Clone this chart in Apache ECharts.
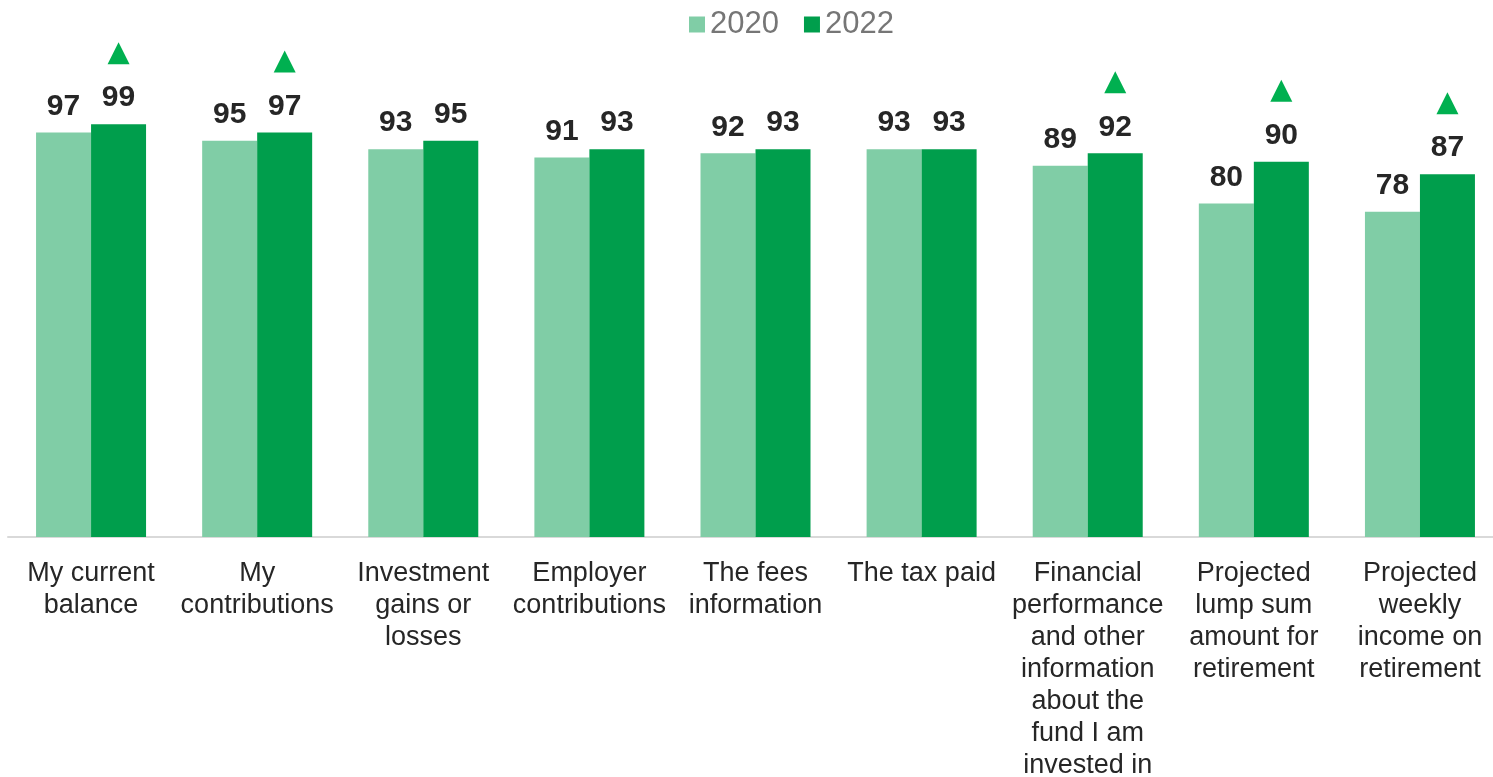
<!DOCTYPE html>
<html>
<head>
<meta charset="utf-8">
<style>
  html, body { margin: 0; padding: 0; background: #ffffff; }
  #chart { width: 1493px; height: 777px; }
</style>
<script src="https://cdn.jsdelivr.net/npm/echarts@6/dist/echarts.min.js"></script>
</head>
<body>
<div id="chart"></div>
<script>
// Information items shown on the member statement
const categories = [
  'My current\nbalance',
  'My\ncontributions',
  'Investment\ngains or\nlosses',
  'Employer\ncontributions',
  'The fees\ninformation',
  'The tax paid',
  'Financial\nperformance\nand other\ninformation\nabout the\nfund I am\ninvested in',
  'Projected\nlump sum\namount for\nretirement',
  'Projected\nweekly\nincome on\nretirement'
];
const values2020 = [97, 95, 93, 91, 92, 93, 89, 80, 78];
const values2022 = [99, 97, 95, 93, 93, 93, 92, 90, 87];
// 1 = significant increase since 2020 (marked with a triangle)
const increased = [1, 1, 0, 0, 0, 0, 1, 1, 1];

const FONT = '"Liberation Sans", Arial, sans-serif';

const chart = echarts.init(document.getElementById('chart'), null, { renderer: 'canvas' });

const valueLabel = {
  show: true,
  position: 'top',
  distance: 11,
  fontFamily: FONT,
  fontSize: 30,
  fontWeight: 'bold',
  color: '#262626'
};

const markers = [];
increased.forEach((flag, i) => {
  if (flag) markers.push({ coord: [i, values2022[i]] });
});

chart.setOption({
  animation: false,
  legend: {
    top: 4,
    left: 684,
    icon: 'rect',
    itemWidth: 16,
    itemHeight: 16,
    itemGap: 25,
    textStyle: { fontFamily: FONT, fontSize: 31, color: '#767676' },
    data: ['2020', '2022']
  },
  grid: {
    left: 8,
    width: 1495,
    top: 120,
    bottom: 240,
    containLabel: false,
    outerBoundsMode: 'none'
  },
  xAxis: {
    type: 'category',
    data: categories,
    axisLine: { lineStyle: { color: '#d9d9d9', width: 2 } },
    axisTick: { show: false },
    axisLabel: {
      interval: 0,
      margin: 21,
      fontFamily: FONT,
      fontSize: 27,
      lineHeight: 32,
      color: '#262626',
      align: 'center'
    }
  },
  yAxis: {
    type: 'value',
    min: 0,
    max: 100,
    show: false,
    splitLine: { show: false }
  },
  series: [
    {
      name: '2020',
      type: 'bar',
      data: values2020,
      barWidth: 55,
      barGap: '0%',
      itemStyle: { color: '#80CDA6' },
      label: valueLabel
    },
    {
      name: '2022',
      type: 'bar',
      data: values2022,
      barWidth: 55,
      barGap: '0%',
      itemStyle: { color: '#009E4C' },
      label: valueLabel,
      markPoint: {
        symbol: 'triangle',
        symbolSize: [22, 22],
        symbolOffset: [0, -71],
        itemStyle: { color: '#00B050' },
        label: { show: false },
        data: markers
      }
    }
  ]
});
</script>
</body>
</html>
